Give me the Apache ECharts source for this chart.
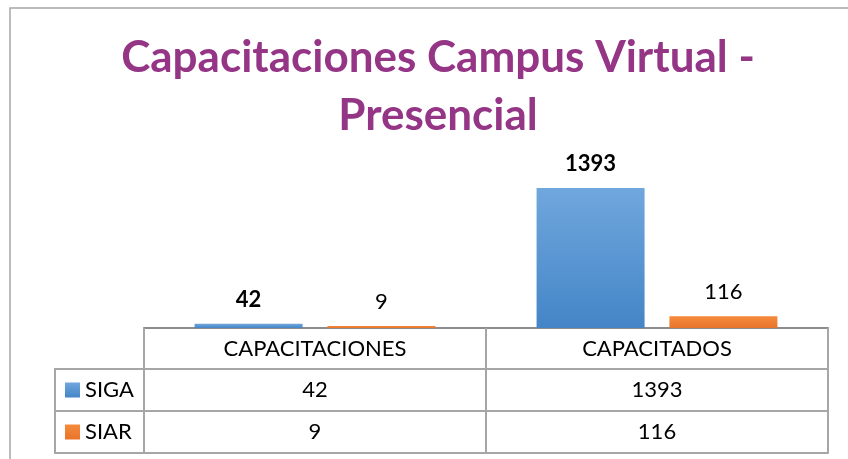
<!DOCTYPE html>
<html>
<head>
<meta charset="utf-8">
<script src="https://cdn.jsdelivr.net/npm/echarts@6/dist/echarts.min.js"></script>
<style>
  html, body { margin: 0; padding: 0; background: #fff; }
  #myEcharts { width: 848px; height: 459px; }
</style>
</head>
<body>
<div id="myEcharts"></div>
<script>
// datos del grafico
const categories = ["CAPACITACIONES", "CAPACITADOS"];
const sigaValues = [42, 1393];
const siarValues = [9, 116];
const seriesNames = ["SIGA", "SIAR"];

const fontFamily = "Lato";
const lineColor = "#a6a6a6";

// layout de la tabla (debajo del eje)
const gridLeft = 144;
const gridRight = 20;
const axisY = 328;
const rowH = [41, 42, 42];

function tableAxis(offset, labels, tickLen, showLine) {
  return {
    type: "category",
    data: categories,
    position: "bottom",
    offset: offset,
    axisLine: { show: showLine !== false, lineStyle: { color: lineColor, width: 2 } },
    axisTick: { show: tickLen > 0, length: tickLen, lineStyle: { color: lineColor, width: 2 } },
    axisLabel: {
      show: !!labels,
      margin: 10,
      fontSize: 22,
      fontFamily: fontFamily,
      color: "#000",
      formatter: function (value, index) {
        return labels ? String(labels[index]) : "";
      },
    },
  };
}

let option = {
  backgroundColor: "#fff",
  animation: false,
  title: {
    text: "Capacitaciones Campus Virtual -\nPresencial",
    left: 433,
    top: 24,
    textAlign: "center",
    textStyle: {
      fontFamily: fontFamily,
      fontSize: 44,
      fontWeight: "bold",
      color: "#953586",
      lineHeight: 58,
    },
  },
  legend: {
    data: seriesNames,
    orient: "vertical",
    left: 65,
    top: 379,
    padding: 0,
    itemGap: 20,
    itemWidth: 15,
    itemHeight: 15,
    icon: "rect",
    textStyle: { fontFamily: fontFamily, fontSize: 22, color: "#000" },
  },
  grid: {
    left: gridLeft,
    right: gridRight,
    top: 147,
    bottom: 459 - axisY,
  },
  xAxis: [
    {
      type: "category",
      data: categories,
      position: "bottom",
      axisLine: { lineStyle: { color: "#8c8c8c", width: 2 } },
      axisTick: { show: true, length: rowH[0], lineStyle: { color: lineColor, width: 2 } },
      axisLabel: { margin: 10, fontSize: 22, fontFamily: fontFamily, color: "#000" },
    },
    tableAxis(rowH[0], sigaValues, rowH[1]),
    tableAxis(rowH[0] + rowH[1], siarValues, rowH[2]),
    tableAxis(rowH[0] + rowH[1] + rowH[2], null, 0),
  ],
  yAxis: {
    type: "value",
    min: 0,
    max: 1800,
    show: false,
    splitLine: { show: false },
  },
  series: [
    {
      name: seriesNames[0],
      type: "bar",
      barWidth: 108,
      barGap: "23%",
      itemStyle: {
        color: new echarts.graphic.LinearGradient(0, 0, 0, 1, [
          { offset: 0, color: "#70a7dd" },
          { offset: 1, color: "#4485c7" },
        ]),
      },
      label: {
        show: true,
        position: "top",
        distance: 13,
        fontFamily: fontFamily,
        fontSize: 22,
        fontWeight: "bold",
        color: "#000",
      },
      data: sigaValues,
    },
    {
      name: seriesNames[1],
      type: "bar",
      barWidth: 108,
      barMinHeight: 2,
      itemStyle: {
        color: new echarts.graphic.LinearGradient(0, 0, 0, 1, [
          { offset: 0, color: "#f48a3c" },
          { offset: 1, color: "#e8742b" },
        ]),
      },
      label: {
        show: true,
        position: "top",
        distance: 13,
        fontFamily: fontFamily,
        fontSize: 22,
        color: "#000",
      },
      data: siarValues,
    },
  ],
  graphic: [
    // marco exterior
    {
      type: "rect",
      shape: { x: 10, y: 8, width: 900, height: 500 },
      style: { fill: null, stroke: lineColor, lineWidth: 1.5 },
      silent: true,
    },
    // celdas de la leyenda
    {
      type: "rect",
      shape: { x: 55, y: axisY + rowH[0], width: gridLeft - 55, height: rowH[1] + rowH[2] },
      style: { fill: null, stroke: lineColor, lineWidth: 2 },
      silent: true,
    },
    {
      type: "line",
      shape: { x1: 55, y1: axisY + rowH[0] + rowH[1], x2: gridLeft, y2: axisY + rowH[0] + rowH[1] },
      style: { stroke: lineColor, lineWidth: 2 },
      silent: true,
    },
  ],
};

let chart = echarts.init(document.getElementById("myEcharts"));
chart.setOption(option);
window.onresize = function () {
  chart.resize();
};
</script>
</body>
</html>
